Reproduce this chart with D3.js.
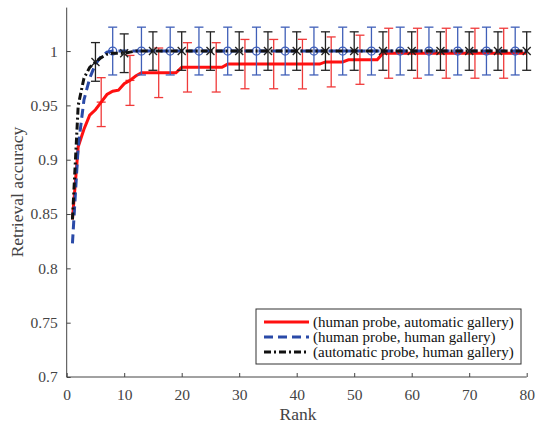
<!DOCTYPE html>
<html><head><meta charset="utf-8">
<script src="https://cdn.jsdelivr.net/npm/d3@7/dist/d3.min.js"></script>
<style>body{margin:0;background:#fff}svg{display:block}</style>
</head><body><svg id="c" width="536" height="426"></svg>
<script>
// ---- data ----
const ranks = [1,2,3,4,5,6,7,8,9,10,11,12,13,14,15,16,17,18,19,20,21,22,23,24,25,26,27,28,29,30,
  31,32,33,34,35,36,37,38,39,40,41,42,43,44,45,46,47,48,49,50,51,52,53,54,55,56,57,58,59,60,
  61,62,63,64,65,66,67,68,69,70,71,72,73,74,75,76,77,78,79,80];
const humanAuto = [0.845,0.912,0.928,0.941,0.946,0.953,0.960,0.963,0.964,0.970,
  0.973,0.977,0.980,0.980,0.980,0.980,0.980,0.980,0.980,0.985,
  0.985,0.985,0.985,0.985,0.985,0.985,0.985,0.988,0.988,0.988,
  0.988,0.988,0.988,0.988,0.988,0.988,0.988,0.988,0.988,0.988,
  0.988,0.988,0.988,0.988,0.990,0.990,0.990,0.990,0.992,0.992,
  0.992,0.992,0.992,0.992,0.998,0.998,0.998,0.998,0.998,0.998,
  0.998,0.998,0.998,0.998,0.998,0.998,0.998,0.998,0.998,0.998,
  0.998,0.998,0.998,0.998,0.998,0.998,0.998,0.998,0.998,0.998];
const humanHuman = [0.823,0.912,0.955,0.975,0.988,0.995,0.999,1,1,1,
  1,1,1,1,1,1,1,1,1,1, 1,1,1,1,1,1,1,1,1,1, 1,1,1,1,1,1,1,1,1,1,
  1,1,1,1,1,1,1,1,1,1, 1,1,1,1,1,1,1,1,1,1, 1,1,1,1,1,1,1,1,1,1,
  1,1,1,1,1,1,1,1,1,1];
const autoHuman = [0.845,0.950,0.975,0.985,0.990,0.994,0.997,0.998,0.998,0.998,
  0.999,1,1,1,1,1,1,1,1,1, 1,1,1,1,1,1,1,1,1,1, 1,1,1,1,1,1,1,1,1,1,
  1,1,1,1,1,1,1,1,1,1, 1,1,1,1,1,1,1,1,1,1, 1,1,1,1,1,1,1,1,1,1,
  1,1,1,1,1,1,1,1,1,1];
// error bars (rank, half-width)
const redErrRanks = [6,11,16,21,26,31,36,41,46,51,56,61,66,71,76];
const redErr = [0.0225,0.023,0.0228,0.0227,0.0227,0.0227,0.0227,0.0228,0.023,0.0226,0.023,0.023,0.023,0.023,0.023];
const blueErrRanks = [8,13,18,23,28,33,38,43,48,53,58,63,68,73,78];
const blueErr = [0.022,0.022,0.022,0.022,0.022,0.022,0.022,0.022,0.022,0.022,0.022,0.022,0.022,0.022,0.022];
const blackErrRanks = [5,10,15,20,25,30,35,40,45,50,55,60,65,70,75,80];
const blackErr = [0.0178,0.0178,0.0177,0.0177,0.0177,0.0177,0.0177,0.0177,0.0177,0.0177,0.0177,0.0177,0.0177,0.0177,0.0177,0.0177];
const xTicks = [0,10,20,30,40,50,60,70,80];
const yTicks = [0.7,0.75,0.8,0.85,0.9,0.95,1];
const legendLabels = ["(human probe, automatic gallery)","(human probe, human gallery)","(automatic probe, human gallery)"];

// ---- drawing ----
const svg = d3.select('#c');
const x = d3.scaleLinear().domain([0,80]).range([66.7,526.7]);
const y = d3.scaleLinear().domain([0.7,1.04]).range([377,7.6]);
const FONT = '"Liberation Serif","Times New Roman",serif';
const axisCol = '#444';

const series = [
  {vals: humanAuto, color:'#ff1010', ecolor:'#f03a3a', dash:null, eR:redErrRanks, eV:redErr, marker:'plus'},
  {vals: humanHuman, color:'#2a4aa8', ecolor:'#3f5fb8', dash:'9,5', eR:blueErrRanks, eV:blueErr, marker:'circle'},
  {vals: autoHuman, color:'#111', ecolor:'#222', dash:'7,3,2,3', eR:blackErrRanks, eV:blackErr, marker:'x'}
];

const line = d3.line().x((d,i)=>x(ranks[i])).y(d=>y(d));

series.forEach(s=>{
  const g = svg.append('g');
  const pts = s.eR.map((r,i)=>({r, v:s.vals[ranks.indexOf(r)], e:s.eV[i]}));
  const eb = g.selectAll('g.eb').data(pts).enter().append('g')
    .attr('stroke', s.ecolor).attr('stroke-width',1.3).attr('fill','none');
  eb.append('line').attr('x1',d=>x(d.r)).attr('x2',d=>x(d.r)).attr('y1',d=>y(d.v-d.e)).attr('y2',d=>y(d.v+d.e));
  eb.append('line').attr('x1',d=>x(d.r)-4.5).attr('x2',d=>x(d.r)+4.5).attr('y1',d=>y(d.v+d.e)).attr('y2',d=>y(d.v+d.e));
  eb.append('line').attr('x1',d=>x(d.r)-4.5).attr('x2',d=>x(d.r)+4.5).attr('y1',d=>y(d.v-d.e)).attr('y2',d=>y(d.v-d.e));
  g.append('path').datum(s.vals).attr('d', line).attr('fill','none')
    .attr('stroke', s.color).attr('stroke-width',3)
    .attr('stroke-dasharray', s.dash);
  eb.each(function(d){
    const m = d3.select(this), cx = x(d.r), cy = y(d.v);
    if (s.marker==='circle') {
      m.append('circle').attr('cx',cx).attr('cy',cy).attr('r',4).attr('stroke',s.ecolor).attr('stroke-width',1.3);
    } else if (s.marker==='plus') {
      m.append('line').attr('x1',cx-4.5).attr('x2',cx+4.5).attr('y1',cy).attr('y2',cy);
    } else {
      m.append('line').attr('x1',cx-4).attr('x2',cx+4).attr('y1',cy-4).attr('y2',cy+4);
      m.append('line').attr('x1',cx-4).attr('x2',cx+4).attr('y1',cy+4).attr('y2',cy-4);
    }
  });
});

// axes
const xAxis = svg.append('g').attr('transform','translate(0,377)')
  .call(d3.axisBottom(x).tickValues(xTicks).tickSizeInner(-4).tickSizeOuter(0).tickPadding(11.5).tickFormat(d3.format('d')));
const yAxis = svg.append('g').attr('transform','translate(66.7,0)')
  .call(d3.axisLeft(y).tickValues(yTicks).tickSizeInner(-4).tickSizeOuter(0).tickPadding(9).tickFormat(d=>String(+d.toFixed(2))));
[xAxis,yAxis].forEach(a=>{
  a.select('.domain').attr('stroke',axisCol).attr('stroke-width',1);
  a.selectAll('.tick line').attr('stroke',axisCol);
  a.selectAll('.tick text').attr('fill','#444').style('font-family',FONT).style('font-size','15.5px');
});
yAxis.select('.domain').attr('d','M0,377V7.6');
xAxis.select('.domain').attr('d','M66.7,0H526.7');

svg.append('text').attr('x',298).attr('y',420).attr('text-anchor','middle')
  .attr('fill','#444').style('font-family',FONT).style('font-size','17.5px').text('Rank');
svg.append('text').attr('transform','translate(23,192) rotate(-90)').attr('text-anchor','middle')
  .attr('fill','#444').style('font-family',FONT).style('font-size','17.5px').text('Retrieval accuracy');

// legend
const lg = svg.append('g');
lg.append('rect').attr('x',256).attr('y',309).attr('width',265).attr('height',55)
  .attr('fill','#fff').attr('stroke','#333').attr('stroke-width',1);
series.forEach((s,i)=>{
  const yy = 322 + i*15;
  lg.append('line').attr('x1',264).attr('x2',309).attr('y1',yy).attr('y2',yy)
    .attr('stroke',s.color).attr('stroke-width',3).attr('stroke-dasharray',s.dash);
  lg.append('text').attr('x',313).attr('y',yy+4.5).attr('fill','#111')
    .style('font-family',FONT).style('font-size','15px').text(legendLabels[i]);
});
</script></body></html>
